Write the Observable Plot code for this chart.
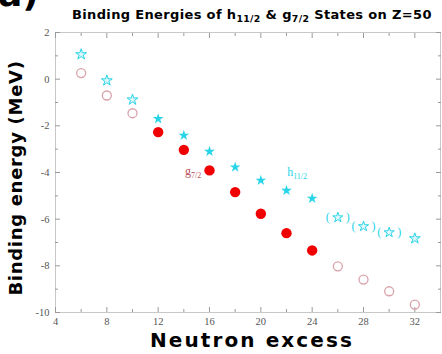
<!DOCTYPE html>
<html><head><meta charset="utf-8">
<script src="https://cdn.jsdelivr.net/npm/d3@7"></script>
<script src="https://cdn.jsdelivr.net/npm/@observablehq/plot@0.6"></script>
<style>
body{margin:0;background:#fff;}
#wrap{position:relative;width:442px;height:354px;overflow:hidden;background:#fff;}
#wrap svg{position:absolute;left:0;top:0;}
.ov{position:absolute;font-family:"DejaVu Sans",sans-serif;font-weight:bold;color:#000;white-space:nowrap;line-height:1;}
.ov sub{font-size:0.72em;vertical-align:-0.3em;}
</style></head><body><div id="wrap"></div>
<script>
// h11/2 states (stars)
const h112OpenX = [6, 8, 10, 32];
const h112OpenE = [1.06, -0.06, -0.88, -6.83];
const h112X = [12, 14, 16, 18, 20, 22, 24];
const h112E = [-1.70, -2.41, -3.10, -3.77, -4.34, -4.77, -5.11];
const h112TentX = [26, 28, 30];
const h112TentE = [-5.93, -6.31, -6.57];
// g7/2 states (circles)
const g72X = [12, 14, 16, 18, 20, 22, 24];
const g72E = [-2.27, -3.03, -3.91, -4.84, -5.77, -6.60, -7.34];
const g72OpenX = [6, 8, 10, 26, 28, 30, 32];
const g72OpenE = [0.26, -0.70, -1.46, -8.02, -8.59, -9.09, -9.66];
// ticks
const xTicks = [4, 8, 12, 16, 20, 24, 28, 32];
const xMinor = [6, 10, 14, 18, 22, 26, 30];
const yTicks = [-10, -8, -6, -4, -2, 0, 2];
const yMinor = [-9, -7, -5, -3, -1, 1];

const cyan = "#28d4e8";
const tickCol = "#9a9a9a";
const serif = "Liberation Serif, DejaVu Serif, serif";

const plot = Plot.plot({
  width: 442, height: 354,
  marginLeft: 55, marginRight: 2, marginTop: 32, marginBottom: 42,
  x: {domain: [4, 34]},
  y: {domain: [-10, 2]},
  style: {background: "transparent"},
  marks: [
    Plot.frame({stroke: "#c8c8c8"}),
    Plot.axisX({ticks: xTicks, tickSize: -5, text: null, label: null, stroke: tickCol}),
    Plot.axisX({ticks: xMinor, tickSize: -3, text: null, label: null, stroke: tickCol}),
    Plot.axisX({anchor: "top", ticks: xTicks, tickSize: -5, text: null, label: null, stroke: tickCol}),
    Plot.axisX({anchor: "top", ticks: xMinor, tickSize: -3, text: null, label: null, stroke: tickCol}),
    Plot.axisY({ticks: yTicks, tickSize: -5, text: null, label: null, stroke: tickCol}),
    Plot.axisY({ticks: yMinor, tickSize: -3, text: null, label: null, stroke: tickCol}),
    Plot.axisY({anchor: "right", ticks: yTicks, tickSize: -5, text: null, label: null, stroke: tickCol}),
    Plot.axisY({anchor: "right", ticks: yMinor, tickSize: -3, text: null, label: null, stroke: tickCol}),
    Plot.axisX({ticks: xTicks, tickSize: 0, tickPadding: 5, tickFormat: d => String(d), label: null,
      fontFamily: serif, fontSize: 10.5, fill: "#555"}),
    Plot.axisY({ticks: yTicks, tickSize: 0, tickPadding: 6, tickFormat: d => String(d), label: null,
      fontFamily: serif, fontSize: 10.5, fill: "#555"}),
    // g7/2 circles
    Plot.dot(g72OpenE, {x: g72OpenX, y: g72OpenE, r: 4.5, stroke: "#d9a2aa", strokeWidth: 1.3, fill: "none"}),
    Plot.dot(g72E, {x: g72X, y: g72E, r: 5.2, fill: "#f00000", stroke: "none"}),
    // h11/2 stars
    Plot.dot(h112OpenE, {x: h112OpenX, y: h112OpenE, symbol: "star", r: 3.4, fill: "#d8f6fa", stroke: cyan, strokeWidth: 1}),
    Plot.dot(h112E, {x: h112X, y: h112E, symbol: "star", r: 3.4, fill: cyan, stroke: "none"}),
    Plot.dot(h112TentE, {x: h112TentX, y: h112TentE, symbol: "star", r: 3.2, fill: "#e6f9fb", stroke: cyan, strokeWidth: 1}),
    Plot.text(h112TentE, {x: h112TentX, y: h112TentE, text: () => "(", dx: -10, fill: cyan, fontFamily: serif, fontSize: 12}),
    Plot.text(h112TentE, {x: h112TentX, y: h112TentE, text: () => ")", dx: 10, fill: cyan, fontFamily: serif, fontSize: 12}),
    // state labels
    Plot.text(["g"], {x: 14.1, y: -3.95, text: d => d, textAnchor: "start", fill: "#b8505a", fontFamily: serif, fontSize: 12}),
    Plot.text(["7/2"], {x: 14.1, y: -3.95, text: d => d, textAnchor: "start", dx: 6, dy: 4, fill: "#b8505a", fontFamily: serif, fontSize: 8}),
    Plot.text(["h"], {x: 22.05, y: -4.0, text: d => d, textAnchor: "start", fill: cyan, fontFamily: serif, fontSize: 12}),
    Plot.text(["11/2"], {x: 22.05, y: -4.0, text: d => d, textAnchor: "start", dx: 6, dy: 4, fill: cyan, fontFamily: serif, fontSize: 8})
  ]
});

const wrap = document.getElementById("wrap");
wrap.appendChild(plot);

function ov(html, css) {
  const d = document.createElement("div");
  d.className = "ov";
  d.innerHTML = html;
  Object.assign(d.style, css);
  wrap.appendChild(d);
  return d;
}
ov("a)", {left: "-2px", top: "-24px", fontSize: "36px"});
ov("Binding Energies of h<sub>11/2</sub> &amp; g<sub>7/2</sub> States on Z=50", {left: "72px", top: "8px", fontSize: "13px", letterSpacing: "0.35px"});
ov("Neutron excess", {left: "150px", top: "330px", fontSize: "20px", letterSpacing: "2.1px"});
const yl = ov("Binding energy (MeV)", {left: "16px", top: "178px", fontSize: "18px", letterSpacing: "0.7px"});
yl.style.transform = "translate(-50%,-50%) rotate(-90deg)";
</script></body></html>
